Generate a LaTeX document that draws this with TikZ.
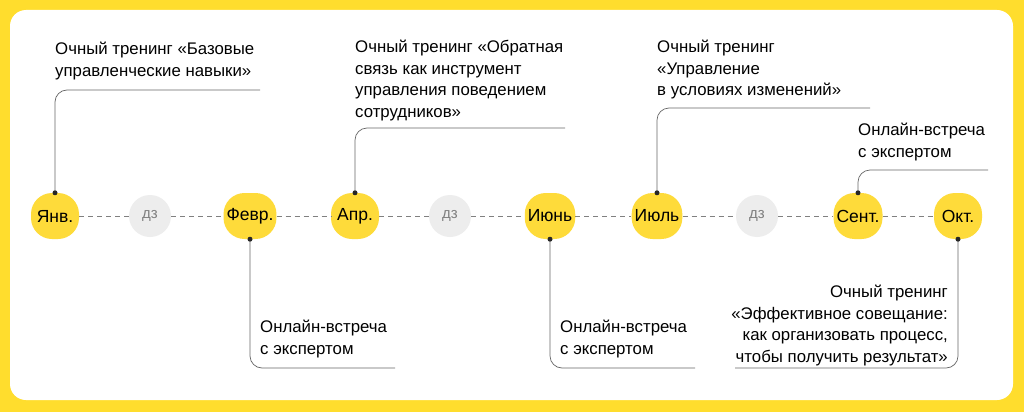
\documentclass[tikz,border=0pt]{standalone}
\usepackage{fontspec}
\setmainfont{Liberation Sans}
\definecolor{yel}{HTML}{FFDD2D}
\definecolor{ylw}{HTML}{FEDB3A}
\definecolor{dzc}{HTML}{EDEDED}
\definecolor{ln}{HTML}{666666}
\begin{document}
\begin{tikzpicture}[x=1pt,y=-1pt,
 mon/.style={fill=ylw,rounded corners=21pt,minimum height=46pt,minimum width=48pt,inner xsep=3pt,font=\fontsize{17.5}{17.5}\selectfont},
 dz/.style={circle,fill=dzc,minimum size=42pt,inner sep=0pt,text=gray,font=\fontsize{15}{15}\selectfont},
 dline/.style={draw=gray,dash pattern=on 5pt off 4pt,line width=0.9pt},
 call/.style={draw=ln,line width=0.7pt,rounded corners=12pt},
 lbl/.style={align=left,anchor=north west,inner sep=0pt,font=\fontsize{16.8}{21.5}\selectfont},
 dot/.style={circle,fill=black!85,inner sep=0pt,minimum size=5pt}]
\useasboundingbox (0,0) rectangle (1024,412);
\fill[yel] (0,0) rectangle (1024,412);
\fill[white,rounded corners=16pt] (10,10) rectangle (1013,400);
\node[mon] (m1) at (55,216) {Янв.};
\node[dz] (d1) at (150,216) {дз};
\node[mon] (m2) at (250,216) {Февр.};
\node[mon] (m3) at (355,216) {Апр.};
\node[dz] (d2) at (450,216) {дз};
\node[mon] (m4) at (550,216) {Июнь};
\node[mon] (m5) at (657,216) {Июль};
\node[dz] (d3) at (757,216) {дз};
\node[mon] (m6) at (858,216) {Сент.};
\node[mon] (m7) at (958,216) {Окт.};
\foreach \a/\b in {m1/d1,d1/m2,m2/m3,m3/d2,d2/m4,m4/m5,m5/d3,d3/m6,m6/m7}
 \draw[dline] (\a) -- (\b);
\coordinate (e1) at (260,90); \coordinate (e2) at (565,128); \coordinate (e3) at (870,108);
\coordinate (e4) at (988,170); \coordinate (e5) at (395,368); \coordinate (e6) at (695,368);
\coordinate (e7) at (735,368);
\draw[call] (m1.north) |- (e1);
\draw[call] (m3.north) |- (e2);
\draw[call] (m5.north) |- (e3);
\draw[call] (m6.north) |- (e4);
\draw[call] (m2.south) |- (e5);
\draw[call] (m4.south) |- (e6);
\draw[call] (m7.south) |- (e7);
\foreach \p in {m1.north,m3.north,m5.north,m6.north,m2.south,m4.south,m7.south}
 \node[dot] at (\p) {};
\node[lbl] (t1) at (55,42) {Очный тренинг «Базовые\\управленческие навыки»};
\node[lbl] (t2) at (355,40) {Очный тренинг «Обратная\\связь как инструмент\\управления поведением\\сотрудников»};
\node[lbl] (t3) at (657,40) {Очный тренинг\\«Управление\\в условиях изменений»};
\node[lbl] (t4) at (858,123) {Онлайн-встреча\\с экспертом};
\node[lbl] (t5) at (260,320) {Онлайн-встреча\\с экспертом};
\node[lbl] (t6) at (560,320) {Онлайн-встреча\\с экспертом};
\node[lbl,align=right,anchor=north east] (t7) at (948,285) {Очный тренинг\\«Эффективное совещание:\\как организовать процесс,\\чтобы получить результат»};
\end{tikzpicture}
\end{document}
